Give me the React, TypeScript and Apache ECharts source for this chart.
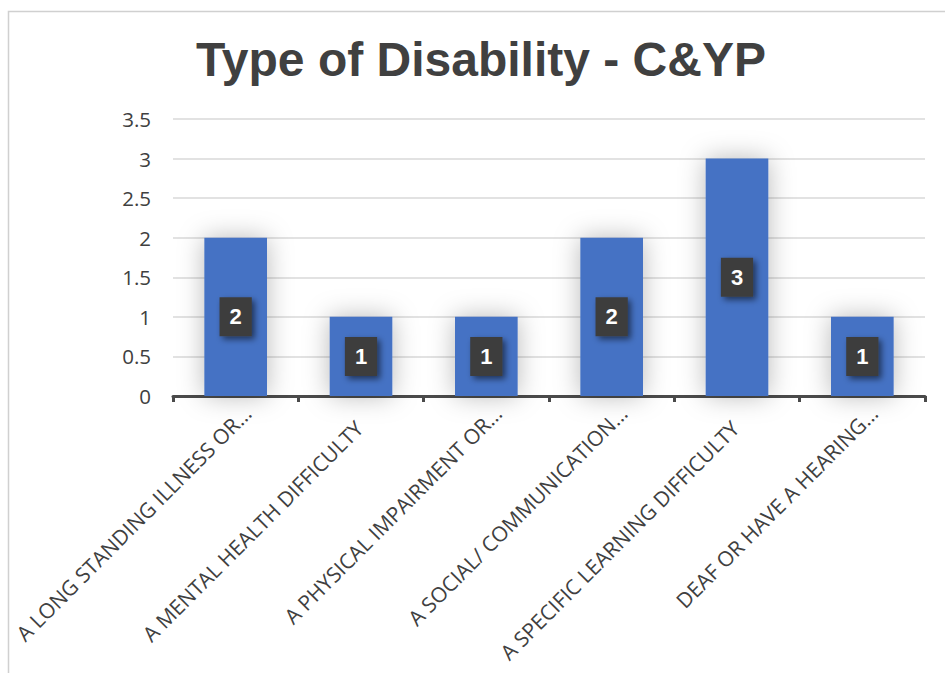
import React, { useEffect, useRef } from "react";
import * as echarts from "echarts";

const titleText = "Type of Disability - C&YP";
const categories = [
  "A LONG STANDING ILLNESS OR…",
  "A MENTAL HEALTH DIFFICULTY",
  "A PHYSICAL IMPAIRMENT OR…",
  "A SOCIAL/ COMMUNICATION…",
  "A SPECIFIC LEARNING DIFFICULTY",
  "DEAF OR HAVE A HEARING…",
];
const values = [2, 1, 1, 2, 3, 1];
const yMin = 0;
const yMax = 3.5;
const yStep = 0.5;

export default function App() {
  const ref = useRef<HTMLDivElement>(null);
  useEffect(() => {
    document.body.style.margin = "0";
    const chart = echarts.init(ref.current!, null, { renderer: "svg" });
    const axisData = categories.map((c) => ({
      value: c,
      textStyle: {
        align: "right",
        verticalAlign: "top",
        padding: c.endsWith("…") ? [6, 0, 0, 0] : [7, 20, 0, 0],
      },
    }));
    chart.setOption({
      animation: false,
      backgroundColor: "#ffffff",
      title: {
        text: titleText,
        left: 481,
        top: 35,
        padding: 0,
        textAlign: "center",
        textStyle: {
          fontFamily: "Liberation Sans",
          fontWeight: "bold",
          fontSize: 48,
          color: "#404040",
        },
      },
      graphic: [
        {
          type: "polyline",
          shape: { points: [[8.5, 673], [8.5, 11.5], [945, 11.5]] },
          style: { stroke: "#d0d0d0", lineWidth: 1.5, fill: "none" },
          silent: true,
        },
      ],
      grid: { left: 173, right: 20, top: 119, bottom: 277, containLabel: false },
      xAxis: {
        type: "category",
        data: axisData,
        axisLine: { show: true, lineStyle: { color: "#4a4a4a", width: 3 } },
        axisTick: { show: true, length: 6, lineStyle: { color: "#4a4a4a", width: 3 } },
        axisLabel: {
          rotate: 45,
          interval: 0,
          align: "right",
          verticalAlign: "top",
          padding: [6, 0, 0, 0],
          margin: 2,
          fontFamily: "Open Sans",
          fontSize: 21,
          color: "#404040",
        },
      },
      yAxis: {
        type: "value",
        min: yMin,
        max: yMax,
        interval: yStep,
        axisLine: { show: false },
        axisTick: { show: false },
        axisLabel: {
          margin: 22,
          fontFamily: "Open Sans",
          fontSize: 20.5,
          color: "#404040",
        },
        splitLine: { lineStyle: { color: "#d9d9d9", width: 1.5 } },
      },
      series: [
        {
          type: "bar",
          data: values,
          barWidth: "50%",
          itemStyle: {
            color: "#4472C4",
            shadowBlur: 26,
            shadowColor: "rgba(0,0,0,0.28)",
          },
          label: {
            show: true,
            position: "inside",
            color: "#ffffff",
            fontFamily: "Liberation Sans",
            fontWeight: "bold",
            fontSize: 22,
            lineHeight: 22,
            backgroundColor: "#3d3d3d",
            padding: [9, 10, 8, 10],
            shadowBlur: 6,
            shadowColor: "rgba(0,0,0,0.55)",
            shadowOffsetX: 3,
            shadowOffsetY: 3,
          },
        },
      ],
    });
    return () => chart.dispose();
  }, []);
  return <div ref={ref} style={{ width: 945, height: 673, overflow: "hidden" }} />;
}
